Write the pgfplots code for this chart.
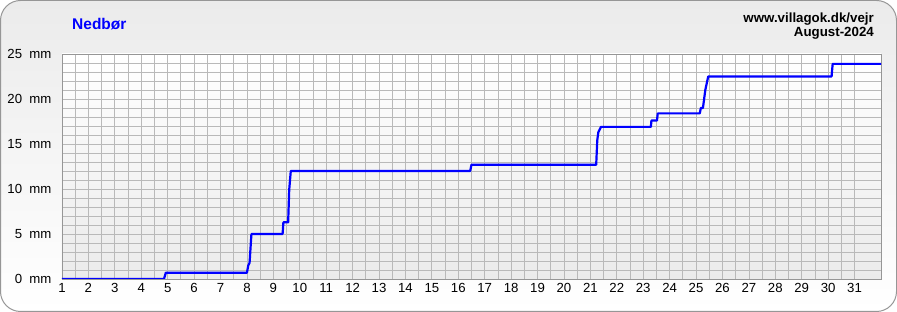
\documentclass[border=0pt]{standalone}
\usepackage{pgfplots}
\pgfplotsset{compat=1.18}
\usepackage{fontspec}
\setmainfont{Liberation Sans}
\definecolor{gridc}{RGB}{185,185,185}
\definecolor{bgc}{RGB}{235,235,235}
\definecolor{framec}{RGB}{150,150,150}
\begin{document}
\begin{tikzpicture}[x=1pt,y=1pt]
\path[use as bounding box] (0,0) rectangle (897,312);
\shade[top color=bgc, bottom color=white, draw=framec, line width=1pt, rounded corners=20pt] (0.5,0.5) rectangle (896.5,311.5);
\node[anchor=west, text=blue, font=\fontsize{15.5}{17}\selectfont\bfseries, inner sep=0pt] at (72,288) {Nedbør};
\node[anchor=east, font=\fontsize{13.3}{14}\selectfont\bfseries, align=right, inner sep=0pt] at (874,286) {www.villagok.dk/vejr\\[-0.5pt]August-2024};
\begin{axis}[
  at={(62pt,33pt)}, anchor=south west,
  scale only axis, width=819pt, height=225pt,
  xmin=1, xmax=32, ymin=0, ymax=25,
  xtick={1,...,31}, minor x tick num=1,
  ytick={0,5,...,25}, minor y tick num=4,
  yticklabels={0\ \ mm,5\ \ mm,10\ \ mm,15\ \ mm,20\ \ mm,25\ \ mm},
  grid=both,
  major grid style={gridc, line width=0.8pt},
  minor grid style={gridc, line width=0.8pt},
  axis line style={framec, line width=0.8pt},
  tick style={draw=none},
  /pgf/number format/assume math mode=true,
  tick label style={font=\fontsize{13.2}{15}\selectfont},
  yticklabel style={xshift=-7pt},
  xticklabel style={yshift=-1pt},
  axis background/.style={shade, top color=white, bottom color=bgc},
]
\addplot[blue, line width=2.2pt, line join=round] coordinates {
(1,0) (4.86,0) (4.93,0.7) (8.0,0.7) (8.05,1.5) (8.1,1.8) (8.17,5.0) (9.35,5.0) (9.38,6.3) (9.56,6.3) (9.6,9.9) (9.66,12.0) (16.45,12.0) (16.5,12.7) (21.22,12.7) (21.26,15.4) (21.3,16.3) (21.4,16.9) (23.29,16.9) (23.31,17.6) (23.52,17.6) (23.55,18.4) (25.14,18.4) (25.18,19.0) (25.26,19.0) (25.35,21) (25.46,22.5) (30.13,22.5) (30.17,23.9) (32,23.9)
};
\end{axis}
\end{tikzpicture}
\end{document}
